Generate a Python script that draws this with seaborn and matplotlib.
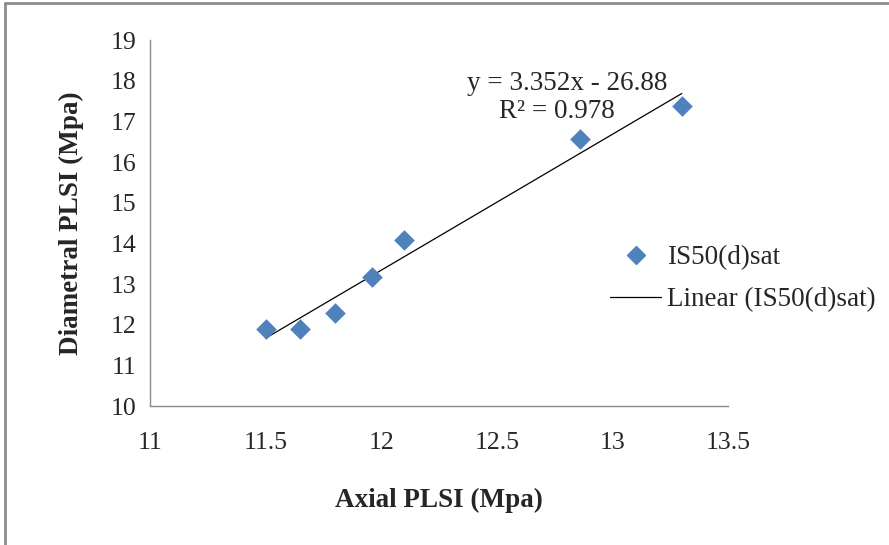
import numpy as np
import pandas as pd
import seaborn as sns
import matplotlib
matplotlib.use("Agg")
import matplotlib.pyplot as plt
from matplotlib.lines import Line2D

# Data
axial_plsi = [11.50, 11.65, 11.80, 11.96, 12.10, 12.86, 13.30]
diametral_plsi = [11.90, 11.90, 12.28, 13.18, 14.08, 16.56, 17.38]
series_name = "IS50(d)sat"
trend_name = "Linear (IS50(d)sat)"
eq_text = "y = 3.352x - 26.88"
r2_text = "R\u00b2 = 0.978"
x_ticks = [11, 11.5, 12, 12.5, 13, 13.5]
y_ticks = [10, 11, 12, 13, 14, 15, 16, 17, 18, 19]

df = pd.DataFrame({"x": axial_plsi, "y": diametral_plsi})

sns.set_theme(style="white")
plt.rcParams["font.family"] = ["Liberation Serif", "DejaVu Serif"]

W, H = 889, 545
fig = plt.figure(figsize=(W / 100, H / 100), dpi=100)
ax = fig.add_axes([150 / W, 1 - 406 / H, (728 - 150) / W, (406 - 40) / H])

blue = "#4F81BD"
sns.scatterplot(data=df, x="x", y="y", marker="D", s=110, color=blue,
                edgecolor=blue, linewidth=0, ax=ax, zorder=3)
sns.regplot(data=df, x="x", y="y", scatter=False, ci=None, truncate=True,
            line_kws={"color": "black", "lw": 0.9}, ax=ax)

ax.set_xlim(11, 13.5)
ax.set_ylim(10, 19)
ax.set_xticks(x_ticks)
ax.set_xticklabels(["11", "11.5", "12", "12.5", "13", "13.5"])
ax.set_yticks(y_ticks)
ax.set_yticklabels([str(v) for v in y_ticks])

for side in ["top", "right"]:
    ax.spines[side].set_visible(False)
for side in ["left", "bottom"]:
    ax.spines[side].set_color("#8c8c8c")
    ax.spines[side].set_linewidth(1.0)
ax.tick_params(axis="both", which="major", direction="out", length=6,
               width=1.0, color="#8c8c8c", labelsize=18.5, pad=4)
ax.tick_params(axis="x", pad=13)

ax.set_xlabel("Axial PLSI (Mpa)", fontsize=19.5, fontweight="bold", labelpad=24)
ax.set_ylabel("Diametral PLSI (Mpa)", fontsize=19.5, fontweight="bold", labelpad=19)

# Trendline equation text
fig.text(567 / W, 1 - 84 / H, eq_text, ha="center", va="center", fontsize=19.5)
fig.text(557 / W, 1 - 111 / H, r2_text, ha="center", va="center", fontsize=19.5)

# Legend
handles = [
    Line2D([], [], marker="D", linestyle="none", color=blue, markersize=9),
    Line2D([], [], color="black", lw=0.9),
]
fig.legend(handles, [series_name, trend_name], loc="center left",
           bbox_to_anchor=(610 / W, 1 - 279 / H), frameon=False, borderpad=0,
           borderaxespad=0, fontsize=19.5, handlelength=1.9, handletextpad=0.22,
           labelspacing=0.62)

# Figure border (top and left)
fig.add_artist(Line2D([5 / W, 1], [1 - 3 / H, 1 - 3 / H], color="#8c8c8c", lw=2,
                      transform=fig.transFigure))
fig.add_artist(Line2D([5 / W, 5 / W], [0, 1 - 3 / H], color="#8c8c8c", lw=2,
                      transform=fig.transFigure))

fig.savefig("out.png", dpi=100, facecolor="white")
